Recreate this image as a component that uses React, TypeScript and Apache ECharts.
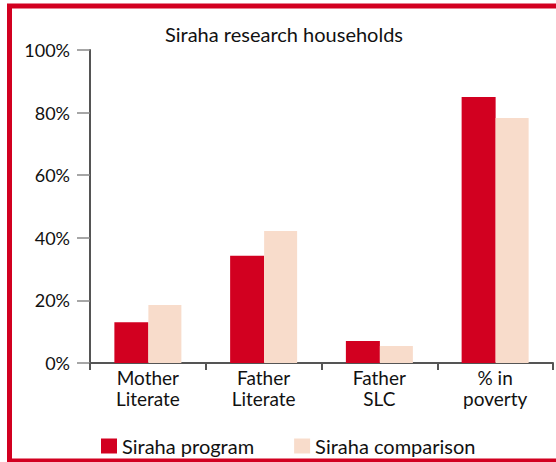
import React, { useEffect, useRef } from "react";
import * as echarts from "echarts";

const categories = ["Mother\nLiterate", "Father\nLiterate", "Father\nSLC", "% in\npoverty"];
const programValues = [13, 34.3, 7, 85];
const comparisonValues = [18.5, 42.2, 5.4, 78.3];
const seriesNames = ["Siraha program", "Siraha comparison"];
const title = "Siraha research households";

const RED = "#d20020";
const PEACH = "#f8dccb";
const FONT = "Lato";

export default function App() {
  const ref = useRef<HTMLDivElement>(null);
  useEffect(() => {
    if (!ref.current) return;
    const chart = echarts.init(ref.current, null, { renderer: "svg" });
    chart.setOption({
      animation: false,
      textStyle: { fontFamily: FONT },
      title: {
        text: title,
        left: 279,
        textAlign: "center",
        top: 19,
        textStyle: { fontFamily: FONT, fontSize: 20, fontWeight: "normal", color: "#111" },
      },
      legend: {
        left: 96,
        top: 431,
        itemWidth: 16,
        itemHeight: 15,
        itemGap: 40,
        icon: "rect",
        textStyle: { fontFamily: FONT, fontSize: 20, color: "#111", padding: [0, 0, 0, 0] },
        data: seriesNames,
      },
      grid: { left: 90, right: 3, top: 50, bottom: 99, containLabel: false },
      xAxis: {
        type: "category",
        data: categories,
        axisLine: { lineStyle: { color: "#555", width: 2 } },
        axisTick: { show: true, length: 7, lineStyle: { color: "#555", width: 2 } },
        axisLabel: { margin: 4, fontFamily: FONT, fontSize: 19, color: "#111", lineHeight: 21 },
      },
      yAxis: {
        type: "value",
        min: 0,
        max: 100,
        interval: 20,
        axisLine: { show: true, lineStyle: { color: "#555", width: 2 } },
        axisTick: { show: true, length: 13, lineStyle: { color: "#888", width: 1.5 } },
        splitLine: { show: false },
        axisLabel: { formatter: "{value}%", margin: 20, fontFamily: FONT, fontSize: 18, color: "#111" },
      },
      series: [
        {
          name: seriesNames[0],
          type: "bar",
          data: programValues,
          barWidth: 34,
          barGap: "0%",
          itemStyle: { color: RED },
        },
        {
          name: seriesNames[1],
          type: "bar",
          data: comparisonValues,
          barWidth: 33,
          barGap: "0%",
          itemStyle: { color: PEACH },
        },
      ],
      graphic: [
        {
          type: "rect",
          shape: { x: 9.5, y: 6, width: 580, height: 455 },
          style: { fill: "none", stroke: RED, lineWidth: 5 },
          silent: true,
        },
      ],
    });
    return () => chart.dispose();
  }, []);
  return <div ref={ref} style={{ width: 556, height: 462, position: "absolute", left: 0, top: 0 }} />;
}
